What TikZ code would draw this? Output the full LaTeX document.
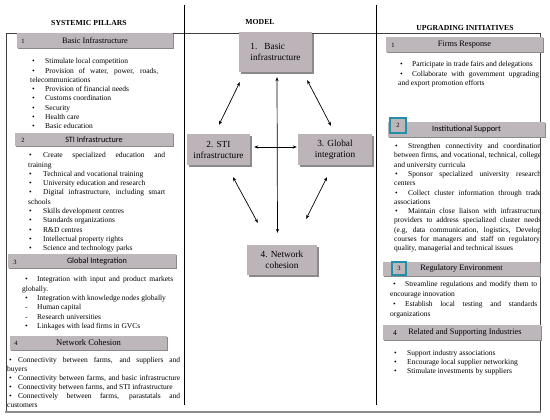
\documentclass[tikz,border=0pt]{standalone}
\usepackage{fontspec}
\setmainfont{Liberation Serif}
\newfontfamily\carlito{Carlito}
\usetikzlibrary{arrows.meta,shadows,calc}
\definecolor{barfill}{HTML}{BDB6BA}
\definecolor{boxfill}{HTML}{BDB4B9}
\definecolor{shade}{HTML}{8A8A8A}
\definecolor{tealc}{HTML}{2390A8}
\newlength\pbo \newlength\pgo \newlength\plw
\newcommand\pitem[1]{\hspace*{\pbo}\makebox[\pgo][l]{•}#1}
\newcommand\pdash[1]{\hspace*{\pbo}\makebox[\pgo][l]{-}#1}
\newcommand\pjust[1]{\makebox[\plw][s]{#1}}
\newcommand\plist[3]{\setlength\pbo{#1}\setlength\pgo{#2}\setlength\plw{#3}}
\begin{document}
\begin{tikzpicture}[x=1pt,y=-1pt,
  bar/.style={fill=barfill, inner sep=0pt, drop shadow={shadow xshift=1.2pt,shadow yshift=-1.4pt,fill=shade,opacity=1}, font=\fontsize{8.3}{10}\selectfont},
  num/.style={inner sep=0pt, font=\fontsize{6.5}{8}\selectfont},
  mbox/.style={fill=boxfill, inner sep=0pt, align=center, drop shadow={shadow xshift=2pt,shadow yshift=-2pt,fill=shade,opacity=1}, font=\fontsize{9.3}{11}\selectfont},
  lst/.style={anchor=north west, inner sep=0pt, align=left, font=\fontsize{7.5}{#1}\selectfont},
  lst/.default=9.3,
  head/.style={inner sep=0pt, font=\bfseries\fontsize{7.7}{9}\selectfont},
  arr/.style={{Stealth[length=4pt,width=3.2pt]}-{Stealth[length=4pt,width=3.2pt]}, line width=0.7pt},
  tealbox/.style={draw=tealc, line width=1.1pt, fill=barfill, inner sep=0pt, font=\fontsize{6.5}{8}\selectfont}
]
\useasboundingbox (0,0) rectangle (550,420);
% frame
\draw[black!75, line width=0.8pt] (6,412) -- (6,33) -- (540,33) -- (540,412);
\draw[black!45, line width=1.6pt] (5,412) -- (541,412);
\draw[line width=0.8pt] (184,5) -- (184,405);
\draw[line width=0.8pt] (376,5) -- (376,405);
% headings
\node[head] (tL) at (89,23) {SYSTEMIC PILLARS};
\node[head] (tM) at (260,22) {MODEL};
\node[head] (tR) at (465,28) {UPGRADING INITIATIVES};
% left bars
\node[bar, minimum width=156pt, minimum height=15pt] (h1) at (95,40.5) {Basic Infrastructure};
\node[num] (n1) at (23,41) {1};
\node[bar, minimum width=158pt, minimum height=13pt, font=\carlito\fontsize{8.2}{10}\selectfont] (h2) at (94,139.5) {STI Infrastructure};
\node[num] (n2) at (23,140) {2};
\node[bar, minimum width=168pt, minimum height=14pt, font=\carlito\fontsize{8.2}{10}\selectfont] (h3) at (92,261) {\hspace*{10pt}Global Integration};
\node[num] (n3) at (15,262) {3};
\node[bar, minimum width=157pt, minimum height=14pt, font=\fontsize{8.6}{10}\selectfont] (h4) at (88.5,343) {Network Cohesion};
\node[num] (n4) at (16,343.5) {4};
% right bars
\node[bar, minimum width=157pt, minimum height=15pt] (r1) at (464.5,44.5) {Firms Response};
\node[num] (m1) at (393,45) {1};
\node[bar, minimum width=157pt, minimum height=15pt, font=\carlito\fontsize{8.2}{10}\selectfont] (r2) at (466.5,129.5) {Institutional Support};
\node[tealbox, minimum width=16pt, minimum height=15pt] (t2) at (398,125.5) {2};
\node[bar, minimum width=157pt, minimum height=14pt] (r3) at (461.5,269) {Regulatory Environment};
\node[tealbox, minimum width=14pt, minimum height=13pt] (t3) at (399,268.5) {3};
\node[bar, minimum width=158pt, minimum height=15pt] (r4) at (462,332.5) {\hspace*{6pt}Related and Supporting Industries};
\node[num, font=\fontsize{7.5}{9}\selectfont] (m4) at (395,333) {4};
% left lists
\plist{2pt}{13pt}{128pt}
\node[lst] (l1) at (30,57) {\strut\pitem{Stimulate local competition}\\
\pjust{\pitem{Provision of water, power, roads,}}\\
telecommunications\\
\pitem{Provision of financial needs}\\
\pitem{Customs coordination}\\
\pitem{Security}\\
\pitem{Health care}\\
\pitem{Basic education}};
\plist{1pt}{14pt}{137pt}
\node[lst] (l2) at (28,151) {\strut\pjust{\pitem{Create specialized education and}}\\
training\\
\pitem{Technical and vocational training}\\
\pitem{University education and research}\\
\pjust{\pitem{Digital infrastructure, including smart}}\\
schools\\
\pitem{Skills development centres}\\
\pitem{Standards organizations}\\
\pitem{R\&D centres}\\
\pitem{Intellectual property rights}\\
\pitem{Science and technology parks}};
\plist{3pt}{12pt}{151pt}
\node[lst=9.4] (l3) at (22,275) {\strut\pjust{\pitem{Integration with input and product markets}}\\
globally.\\
\pitem{Integration with knowledge nodes globally}\\
\pdash{Human capital}\\
\pdash{Research universities}\\
\pitem{Linkages with lead firms in GVCs}};
\plist{2pt}{9pt}{173pt}
\node[lst=9] (l4) at (7,356) {\strut\pjust{\pitem{Connectivity between farms, and suppliers and}}\\
buyers\\
\pjust{\pitem{Connectivity between farms, and basic infrastructure}}\\
\pitem{Connectivity between farms, and STI infrastructure}\\
\pjust{\pitem{Connectively between farms, parastatals and}}\\
customers};
% right lists
\plist{2pt}{12pt}{141pt}
\node[lst=9.5] (q1) at (398,60) {\strut\pitem{Participate in trade fairs and delegations}\\
\pjust{\pitem{Collaborate with government upgrading}}\\
and export promotion efforts};
\begin{scope}
\clip (380,135) rectangle (539.5,260);
\plist{1pt}{13pt}{147pt}
\node[lst=9.27] (q2) at (394,142) {\strut\pjust{\pitem{Strengthen connectivity and coordination}}\\
\pjust{between firms, and vocational, technical, college}\\
and university curricula\\
\pjust{\pitem{Sponsor specialized university research}}\\
centers\\
\pjust{\pitem{Collect cluster information through trade}}\\
associations\\
\pjust{\pitem{Maintain close liaison with infrastructure}}\\
\pjust{providers to address specialized cluster needs}\\
\pjust{(e.g, data communication, logistics, Develop}\\
\pjust{courses for managers and staff on regulatory,}\\
quality, managerial and technical issues};
\end{scope}
\plist{3pt}{12pt}{147pt}
\node[lst=9.7] (q3) at (390,280) {\strut\pjust{\pitem{Streamline regulations and modify them to}}\\
encourage innovation\\
\pjust{\pitem{Establish local testing and standards}}\\
organizations};
\plist{0pt}{13pt}{140pt}
\node[lst=9] (q4) at (394,349) {\strut\pitem{Support industry associations}\\
\pitem{Encourage local supplier networking}\\
\pitem{Stimulate investments by suppliers}};
% model boxes
\node[mbox, minimum width=73pt, minimum height=40pt, align=left] (b1) at (275.5,52) {1.\hspace{7pt}Basic\\infrastructure};
\node[mbox, minimum width=63pt, minimum height=31pt] (b2) at (218.5,149.5) {2. STI\\infrastructure};
\node[mbox, minimum width=74pt, minimum height=31pt] (b3) at (335,149.5) {3. Global\\integration};
\node[mbox, minimum width=70pt, minimum height=30pt] (b4) at (282,260) {4. Network\\cohesion};
% arrows
\draw[arr] ([shift={(1,10)}]b1.south west) -- ([shift={(0.5,-9)}]b2.north);
\draw[arr] ([shift={(-5,8)}]b1.south east) -- ([shift={(-4,-8)}]b3.north);
\draw[arr] ([shift={(4,-2.5)}]b2.east) -- ([shift={(-1,-2.5)}]b3.west);
\draw[arr] ([shift={(1.5,5)}]b1.south) -- ([shift={(-4.5,-12)}]b4.north);
\draw[arr] ([shift={(14.5,12)}]b2.south) -- ([shift={(11,-22)}]b4.north west);
\draw[arr] ([shift={(-8,12)}]b3.south) -- ([shift={(-11,-26)}]b4.north east);
\end{tikzpicture}
\end{document}
